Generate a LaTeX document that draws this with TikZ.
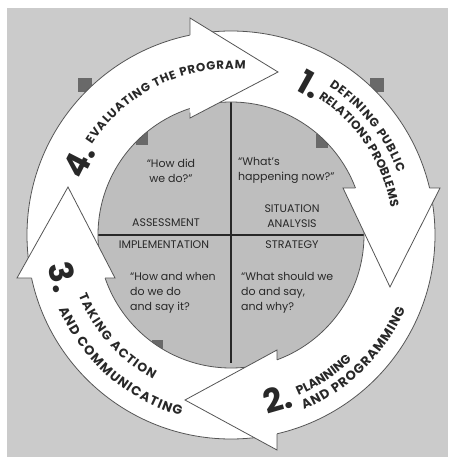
\documentclass[tikz,border=0pt]{standalone}
\usepackage{fontspec}
\setmainfont{Poppins}
\usetikzlibrary{decorations.text}
\definecolor{bgc}{RGB}{203,203,203}
\definecolor{discc}{RGB}{190,190,190}
\definecolor{sq}{RGB}{105,105,105}
\definecolor{ln}{RGB}{85,85,85}
\definecolor{txt}{RGB}{40,40,40}
\begin{document}
\begin{tikzpicture}[x=1pt,y=1pt,
  ringline/.style={draw=ln, line width=0.8pt},
  headedge/.style={draw=ln, line width=0.8pt, line join=miter},
  darksq/.style={fill=sq},
  quad/.style={font=\fontsize{11}{15}\selectfont, text=txt, inner sep=0pt},
  num/.style={font=\bfseries\fontsize{33}{33}\selectfont, text=txt, inner sep=0pt},
  crossline/.style={draw=txt, line width=1.2pt}
]
\useasboundingbox (-231,-224) rectangle (220,235);
\fill[white] (-231,-224) rectangle (220,235);
\fill[bgc] (-224,-222) rectangle (217,227);
% disc
\fill[discc] (0,0) circle[radius=133];
\draw[crossline] (-133,0) -- (133,0);
\draw[crossline] (0,133) -- (0,-128);
% dark squares peeking out
\fill[darksq] (-153,157) rectangle (-139,143);
\fill[darksq] (139,157) rectangle (153,143);
\fill[darksq] (-95,103) rectangle (-83,90);
\fill[darksq] (85,101) rectangle (97,87);
\fill[darksq] (-79,-105) rectangle (-68,-117);
% ring
\path[fill=white, even odd rule] (0,0) circle[radius=204] (0,0) circle[radius=133];
\draw[ringline] (0,0) circle[radius=204];
\draw[ringline] (0,0) circle[radius=133];
% heads
\fill[white] (209,47) -- (159,-52) -- (112,47) -- cycle;
\draw[headedge] (198.5,47) -- (209,47) -- (159,-52) -- (112,47) -- (124.4,47);
\fill[white] (46,-215) -- (-46,-165) -- (46,-115) -- cycle;
\draw[headedge] (46,-198.75) -- (46,-215) -- (-46,-165) -- (46,-115) -- (46,-124.8);
\fill[white] (-214,-43) -- (-163,48) -- (-116,-43) -- cycle;
\draw[headedge] (-199.4,-43) -- (-214,-43) -- (-163,48) -- (-116,-43) -- (-125.9,-43);
\fill[white] (-41,217) -- (47,163) -- (-41,117) -- cycle;
\draw[headedge] (-41,199.8) -- (-41,217) -- (47,163) -- (-41,117) -- (-41,122.5);
% arc texts
\path[decorate, decoration={text along path, text align={fit to path},
  text={|\bfseries\fontsize{11.8}{14}\selectfont\color{txt}|EVALUATING THE PROGRAM}}]
  (147:166) arc[start angle=147, end angle=85, radius=166];
\path[decorate, decoration={text along path, text align={fit to path},
  text={|\bfseries\fontsize{12}{14}\selectfont\color{txt}|DEFINING PUBLIC}}]
  (56.6:178) arc[start angle=56.6, end angle=20.4, radius=178];
\path[decorate, decoration={text along path, text align={fit to path},
  text={|\bfseries\fontsize{12}{14}\selectfont\color{txt}|RELATIONS PROBLEMS}}]
  (57.4:162) arc[start angle=57.4, end angle=9.8, radius=162];
\path[decorate, decoration={text along path, text align={fit to path},
  text={|\bfseries\fontsize{12.5}{14}\selectfont\color{txt}|PLANNING}}]
  (-67.2:174) arc[start angle=-67.2, end angle=-46, radius=174];
\path[decorate, decoration={text along path, text align={fit to path},
  text={|\bfseries\fontsize{13}{14}\selectfont\color{txt}|AND PROGRAMMING}}]
  (-67.4:189.5) arc[start angle=-67.4, end angle=-23, radius=189.5];
\path[decorate, decoration={text along path, text align={fit to path},
  text={|\bfseries\fontsize{12.5}{14}\selectfont\color{txt}|TAKING ACTION}}]
  (-158.3:164) arc[start angle=-158.3, end angle=-118.3, radius=164];
\path[decorate, decoration={text along path, text align={fit to path},
  text={|\bfseries\fontsize{13}{14}\selectfont\color{txt}|AND COMMUNICATING}}]
  (-156.7:187.5) arc[start angle=-156.7, end angle=-105.5, radius=187.5];
% numbers
\node[num, rotate=-29] (n1) at (79,151) {1.};
\node[num, rotate=16] (n2) at (47,-164) {2.};
\node[num, rotate=-76] (n3) at (-168,-42) {3.};
\node[num, rotate=63] (n4) at (-152,74) {4.};
% quadrant texts
\node[quad, align=center] (q1) at (-60,64.5) {“How did\\we do?”};
\node[quad, align=left, anchor=west] (q2) at (7,64.5) {“What's\\happening now?”};
\node[quad, align=center] (sit) at (61,18.5) {SITUATION\\ANALYSIS};
\node[quad] (ass) at (-65,12) {ASSESSMENT};
\node[quad] (imp) at (-67,-10) {IMPLEMENTATION};
\node[quad] (str) at (61,-10) {STRATEGY};
\node[quad, align=left, anchor=west] (q3) at (-101,-57.5) {“How and when\\do we do\\and say it?};
\node[quad, align=left, anchor=west] (q4) at (10,-57.5) {“What should we\\do and say,\\and why?};
\end{tikzpicture}
\end{document}
